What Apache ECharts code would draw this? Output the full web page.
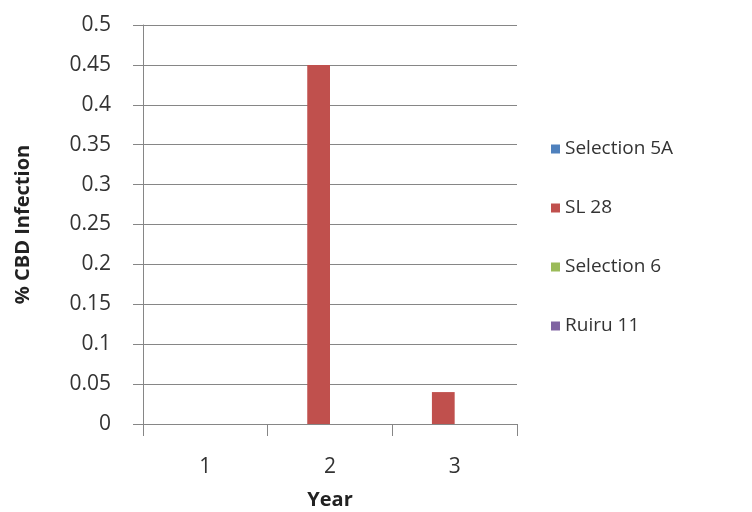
<!DOCTYPE html>
<html><head><meta charset="utf-8">
<script src="https://cdn.jsdelivr.net/npm/echarts@6/dist/echarts.min.js"></script>
<style>html,body{margin:0;padding:0;background:#fff}#c{width:752px;height:512px}</style>
</head><body><div id="c"></div>
<script>
var categories = ['1', '2', '3'];
var seriesNames = ['Selection 5A', 'SL 28', 'Selection 6', 'Ruiru 11'];
var selection5A = [0, 0, 0];
var sl28 = [0, 0.45, 0.04];
var selection6 = [0, 0, 0];
var ruiru11 = [0, 0, 0];
var colors = ['#4F81BD', '#C0504D', '#9BBB59', '#8064A2'];
var values = [selection5A, sl28, selection6, ruiru11];
var font = 'Open Sans';
var chart = echarts.init(document.getElementById('c'));
chart.setOption({
  animation: false,
  color: colors,
  textStyle: {fontFamily: font},
  grid: {left: 143, right: 235, top: 25, bottom: 88, containLabel: false, outerBoundsMode: 'none'},
  legend: {
    orient: 'vertical', left: 546, top: 134, itemGap: 39,
    itemWidth: 9, itemHeight: 9, icon: 'rect',
    textStyle: {fontSize: 19, color: '#333', lineHeight: 20, fontFamily: font},
    data: seriesNames
  },
  xAxis: {
    type: 'category', data: categories,
    name: 'Year', nameLocation: 'middle', nameGap: 66,
    nameTextStyle: {fontSize: 20, fontWeight: 'bold', color: '#222', fontFamily: font},
    axisLine: {lineStyle: {color: '#868686', width: 1}},
    axisTick: {show: true, length: 12, lineStyle: {color: '#868686'}},
    axisLabel: {fontSize: 21, color: '#333', margin: 33, fontFamily: font}
  },
  yAxis: {
    type: 'value', min: 0, max: 0.5, interval: 0.05,
    name: '% CBD Infection', nameLocation: 'middle', nameGap: 110,
    nameTextStyle: {fontSize: 20, fontWeight: 'bold', color: '#222', fontFamily: font},
    axisLine: {show: true, lineStyle: {color: '#868686'}},
    axisTick: {show: true, length: 10, lineStyle: {color: '#868686'}},
    splitLine: {lineStyle: {color: '#868686'}},
    axisLabel: {fontSize: 21, color: '#333', margin: 32, fontFamily: font}
  },
  series: seriesNames.map(function (n, i) {
    return {name: n, type: 'bar', data: values[i], barGap: '0%', barCategoryGap: '27%',
      itemStyle: {color: colors[i]}};
  })
});
</script></body></html>
